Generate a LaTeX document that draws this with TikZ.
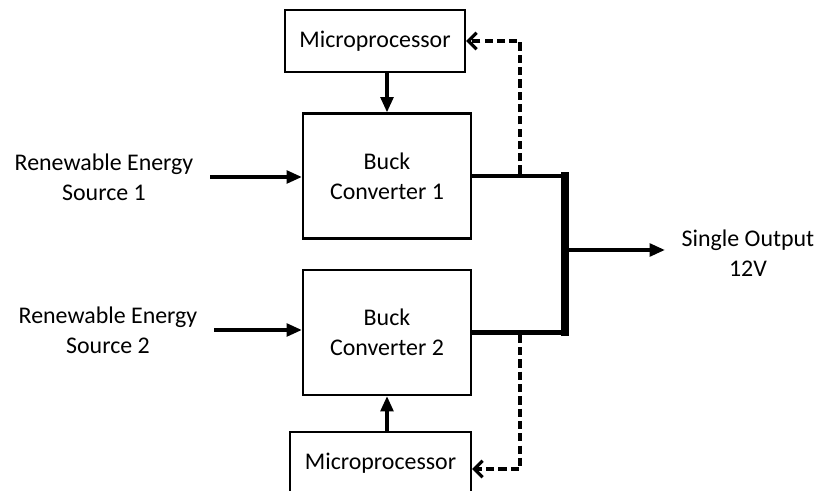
\documentclass[tikz,border=0pt]{standalone}
\usepackage{fontspec}
\setmainfont{Carlito}
\usepackage{tikz}
\usetikzlibrary{arrows.meta,positioning}
\tikzset{
  every picture/.style={font=\fontsize{20.4}{25.5}\selectfont, line join=miter, >={Triangle[length=13pt,width=11pt]}},
  block/.style={draw, line width=2.1pt, align=center, minimum width=5.04cm, minimum height=3.75cm},
  micro/.style={draw, line width=2.1pt, align=center, minimum width=5.4cm, minimum height=1.86cm},
  lbl/.style={align=center, inner xsep=0.5cm},
  feed/.style={->, line width=2.6pt},
  power/.style={line width=4pt},
  bus/.style={line width=6pt, line cap=rect},
  sense/.style={-{Straight Barb[length=7pt,width=14pt,line width=2.6pt]}, line width=2.6pt, dash pattern=on 7pt off 3.5pt},
}

\begin{document}
\begin{tikzpicture}
\clip (0,0) rectangle (24.84,14.73);
% blocks
\node[micro] (mpT) at (11.25,13.50) {Microprocessor};
\node[block] (bc1) at (11.61,9.45) {Buck\\Converter 1};
\node[block] (bc2) at (11.61,4.755) {Buck\\Converter 2};
\node[micro,minimum width=5.43cm] (mpB) at (11.415,0.84) {Microprocessor};
% labels
\node[lbl] (src1) at (3.12,9.42) {Renewable Energy\\Source 1};
\node[lbl] (src2) at (3.24,4.83) {Renewable Energy\\Source 2};
\node[lbl] (out) at (22.44,7.14) {Single Output\\12V};
% bus points
\coordinate (bt) at (16.95,9.45);
\coordinate (bb) at (16.95,4.755);
\coordinate (tapT) at (15.6,9.45);
\coordinate (tapB) at (15.6,4.755);
% inputs
\draw[feed] (src1.east) -- (src1.east -| bc1.west);
\draw[feed] (src2.east) -- (src2.east -| bc2.west);
\draw[feed] (mpT.south -| bc1.north) -- (bc1.north);
\draw[feed] (mpB.north -| bc2.south) -- (bc2.south);
% outputs
\draw[power] (bc1.east) -- (bt);
\draw[power] (bc2.east) -- (bb);
\draw[bus] (bt) -- (bb);
\draw[feed] (bt |- 0,7.23) -- (out.west |- 0,7.23);
% feedback
\draw[sense] ([yshift=2pt]tapT) |- (mpT.east);
\draw[sense] ([yshift=-2pt]tapB) |- ([yshift=-0.18cm]mpB.east);
\end{tikzpicture}
\end{document}
